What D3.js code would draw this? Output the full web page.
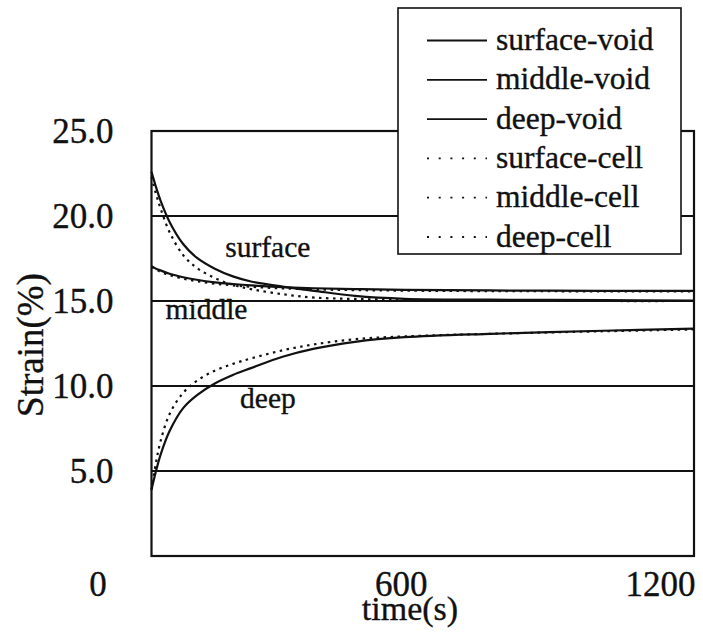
<!DOCTYPE html>
<html>
<head>
<meta charset="utf-8">
<script src="https://cdn.jsdelivr.net/npm/d3@7"></script>
<style>
  html, body { margin: 0; padding: 0; background: #fff; }
  svg { display: block; }
  text { font-family: "Liberation Serif", "Times New Roman", serif; fill: #111; stroke: #111; stroke-width: 0.35px; }
</style>
</head>
<body>
<svg id="chart" width="703" height="635"></svg>
<script>
// Sampling times (s) shared by all six curves
const times = [0, 10, 20, 40, 70, 100, 140, 180, 220, 290, 360, 450, 560, 750, 1000, 1200];

// Strain (%) for each layer, void model (solid) and cell model (dotted)
const surfaceVoid = [22.6, 21.7, 20.9, 19.65, 18.35, 17.55, 16.9, 16.45, 16.15, 15.85, 15.6, 15.3, 15.13, 15.08, 15.05, 15.03];
const middleVoid  = [17.05, 16.9, 16.8, 16.6, 16.4, 16.25, 16.1, 16.0, 15.92, 15.82, 15.75, 15.7, 15.66, 15.62, 15.6, 15.6];
const deepVoid    = [3.9, 5.0, 5.95, 7.35, 8.7, 9.45, 10.15, 10.65, 11.05, 11.72, 12.2, 12.6, 12.87, 13.07, 13.25, 13.38];
const surfaceCell = [22.3, 21.3, 20.45, 19.05, 17.7, 16.95, 16.35, 15.95, 15.7, 15.4, 15.2, 15.12, 15.07, 15.03, 15.0, 15.0];
const middleCell  = [17.0, 16.85, 16.72, 16.52, 16.32, 16.17, 16.02, 15.92, 15.84, 15.74, 15.68, 15.64, 15.61, 15.58, 15.57, 15.57];
const deepCell    = [3.9, 5.5, 6.75, 8.35, 9.6, 10.3, 10.9, 11.3, 11.62, 12.1, 12.45, 12.75, 12.92, 13.07, 13.22, 13.33];

const seriesNames = ["surface-void", "middle-void", "deep-void", "surface-cell", "middle-cell", "deep-cell"];
const seriesValues = [surfaceVoid, middleVoid, deepVoid, surfaceCell, middleCell, deepCell];
const seriesDotted = [false, false, false, true, true, true];

// Axis ticks
const xTicks = [0, 600, 1200];
const yTicks = [5, 10, 15, 20, 25];
const gridValues = [5, 10, 15, 20];

// In-plot layer labels: [text, time, strain]
const layerLabels = [["surface", 163, 17.56], ["middle", 31, 13.97], ["deep", 196, 8.69]];

// ---- layout ----
const svg = d3.select("#chart");
const plot = { left: 151.5, top: 131, right: 694, bottom: 556 };

const x = d3.scaleLinear().domain([0, 1200]).range([plot.left, plot.right]);
const y = d3.scaleLinear().domain([0, 25]).range([plot.bottom, plot.top]);

// horizontal grid lines
svg.append("g").selectAll("line").data(gridValues).join("line")
  .attr("x1", plot.left).attr("x2", plot.right)
  .attr("y1", d => y(d)).attr("y2", d => y(d))
  .attr("stroke", "#111").attr("stroke-width", 2);

// curves
const line = d3.line()
  .x((d, i) => x(times[i]))
  .y(d => y(d))
  .curve(d3.curveCatmullRom.alpha(0.5));

const curves = svg.append("g");
seriesValues.forEach((vals, k) => {
  curves.append("path")
    .attr("d", line(vals))
    .attr("fill", "none")
    .attr("stroke", "#111")
    .attr("stroke-width", 2.2)
    .attr("stroke-dasharray", seriesDotted[k] ? "2.5,4.5" : null);
});

// plot frame
svg.append("rect")
  .attr("x", plot.left).attr("y", plot.top)
  .attr("width", plot.right - plot.left).attr("height", plot.bottom - plot.top)
  .attr("fill", "none").attr("stroke", "#111").attr("stroke-width", 2.2);

// layer labels
svg.append("g").selectAll("text").data(layerLabels).join("text")
  .attr("x", d => x(d[1])).attr("y", d => y(d[2]))
  .attr("font-size", 29.5)
  .text(d => d[0]);

// y axis
const yAxis = svg.append("g")
  .attr("transform", `translate(${plot.left},0)`)
  .call(d3.axisLeft(y).tickValues(yTicks).tickFormat(d3.format(".1f")).tickSize(0).tickPadding(38));
yAxis.select(".domain").remove();
yAxis.selectAll("text")
  .attr("font-size", 35)
  .attr("fill", "#111")
  .attr("dy", "0.34em");

// x axis (labels sit left of their nominal positions, as printed)
const xLabelShift = [-54, -22, -34];
const xAxis = svg.append("g")
  .attr("transform", `translate(0,${plot.bottom})`)
  .call(d3.axisBottom(x).tickValues(xTicks).tickFormat(d3.format("d")).tickSize(0).tickPadding(15));
xAxis.select(".domain").remove();
xAxis.selectAll("text")
  .attr("font-size", 35)
  .attr("fill", "#111")
  .attr("dx", (d, i) => xLabelShift[i]);

// axis titles
svg.append("text")
  .attr("x", 410).attr("y", 620)
  .attr("text-anchor", "middle")
  .attr("font-size", 34)
  .text("time(s)");

svg.append("text")
  .attr("transform", "translate(43,345) rotate(-90)")
  .attr("text-anchor", "middle")
  .attr("font-size", 37)
  .text("Strain(%)");

// legend
const legend = { x: 398, y: 8, w: 283, h: 246, rowTop: 42, rowGap: 39.3 };
svg.append("rect")
  .attr("x", legend.x).attr("y", legend.y)
  .attr("width", legend.w).attr("height", legend.h)
  .attr("fill", "#fff").attr("stroke", "#111").attr("stroke-width", 1.6);

const rows = svg.append("g").selectAll("g").data(seriesNames).join("g")
  .attr("transform", (d, i) => `translate(0,${legend.y + legend.rowTop + i * legend.rowGap})`);
rows.append("line")
  .attr("x1", 427).attr("x2", 487)
  .attr("y1", -9.5).attr("y2", -9.5)
  .attr("stroke", "#111")
  .attr("stroke-width", 1.8)
  .attr("stroke-dasharray", (d, i) => seriesDotted[i] ? "2,9.7" : null);
rows.append("text")
  .attr("x", 496).attr("y", 0)
  .attr("font-size", 31.5)
  .text(d => d);
</script>
</body>
</html>
